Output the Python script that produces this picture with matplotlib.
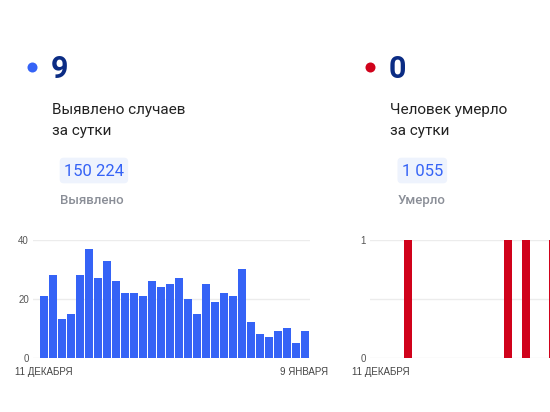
import numpy as np
import matplotlib
matplotlib.use("Agg")
import matplotlib.pyplot as plt
from matplotlib.patches import FancyBboxPatch

plt.rcParams['font.family'] = ['Roboto', 'DejaVu Sans']

# daily data, 11 Dec .. 9 Jan
cases = [21, 28, 13, 15, 28, 37, 27, 33, 26, 22, 22, 21, 26, 24, 25,
         27, 20, 15, 25, 19, 22, 21, 30, 12, 8, 7, 9, 10, 5, 9]
deaths = [0, 0, 0, 1, 0, 0, 0, 0, 0, 0, 0, 0, 0, 0, 1,
          0, 1, 0, 0, 1, 0, 0, 0, 0, 0, 0, 0, 0, 0, 0]
first_day = "11 ДЕКАБРЯ"
last_day = "9 ЯНВАРЯ"

cases_today = "9"
deaths_today = "0"
cases_total = "150 224"
deaths_total = "1 055"

blue = "#3563f6"
red = "#d0021b"
navy = "#0b2c84"
W, H = 550, 412

fig = plt.figure(figsize=(5.5, 4.12), dpi=100, facecolor="white")

# overlay in pixel coordinates for the header blocks
top = fig.add_axes([0, 0, 1, 1])
top.set_xlim(0, W)
top.set_ylim(H, 0)
top.set_axis_off()


def header(x0, dot_color, big, line1, total, box_w, label):
    top.scatter([x0 - 19.5], [67], s=52, color=dot_color, linewidths=0)
    top.text(x0 - 1, 78.3, big, fontsize=22, fontweight="bold", color=navy, va="baseline")
    top.text(x0, 114, line1, fontsize=11, color="#222222", va="baseline")
    top.text(x0, 134.5, "за сутки", fontsize=11, color="#222222", va="baseline")
    box = FancyBboxPatch((x0 + 8, 157.7), box_w, 25.6,
                         boxstyle="round,pad=0,rounding_size=4",
                         facecolor="#eef3fd", edgecolor="none")
    top.add_patch(box)
    top.text(x0 + 12, 175.7, total, fontsize=12, color=blue, va="baseline")
    top.text(x0 + 8.5, 204.3, label, fontsize=9.5, fontweight="medium",
             color="#8a8e97", va="baseline")


header(51.7, blue, cases_today, "Выявлено случаев", cases_total, 68.4, "Выявлено")
header(389.5, red, deaths_today, "Человек умерло", deaths_total, 49.6, "Умерло")


def style(ax, yticks, ylabels):
    for s in ax.spines.values():
        s.set_visible(False)
    ax.set_yticks(yticks)
    ax.set_yticklabels(ylabels)
    ax.yaxis.grid(True, color="#ececec", linewidth=1)
    ax.set_axisbelow(True)
    ax.tick_params(axis="y", length=0, pad=3, labelsize=7, labelcolor="#555555")
    ax.tick_params(axis="x", length=0, pad=7, labelsize=7, labelcolor="#444444")
    for t in ax.get_xticklabels() + ax.get_yticklabels():
        t.set_family(["Liberation Sans", "DejaVu Sans"])


y0 = 1 - 357.7 / H
h = 117.7 / H

ax1 = fig.add_axes([33 / W, y0, 277 / W, h])
x = np.arange(len(cases))
ax1.bar(x, cases, width=8 / 9, color=blue, linewidth=0)
ax1.set_xlim((33 - 43.5) / 9, (310 - 43.5) / 9)
ax1.set_ylim(0, 40)
ax1.set_xticks([0, len(cases) - 1])
ax1.set_xticklabels([first_day, last_day])
style(ax1, [0, 20, 40], ["0", "20", "40"])

ax2 = fig.add_axes([370 / W, y0, 180 / W, h])
ax2.bar(x, deaths, width=8 / 9.06, color=red, linewidth=0)
ax2.set_xlim((370 - 380.8) / 9.06, (550 - 380.8) / 9.06)
ax2.set_ylim(0, 1)
ax2.set_xticks([0])
ax2.set_xticklabels([first_day])
style(ax2, [0, 0.5, 1], ["0", "", "1"])

fig.savefig("out.png", dpi=100, facecolor="white")
